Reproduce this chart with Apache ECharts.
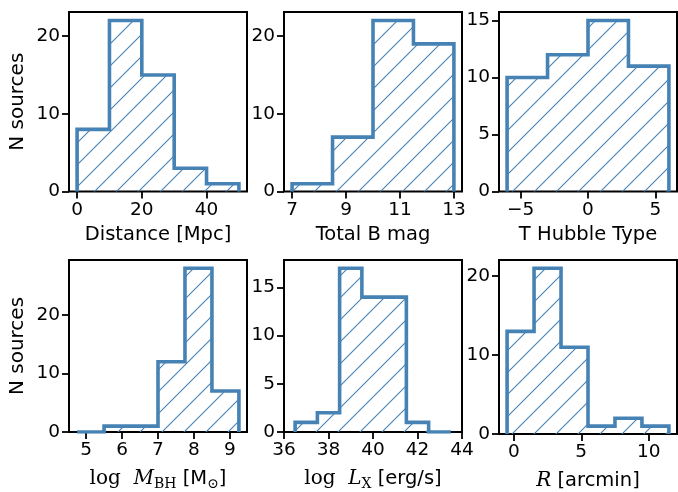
<!DOCTYPE html>
<html>
<head>
<meta charset="utf-8">
<script src="https://cdn.jsdelivr.net/npm/echarts@6/dist/echarts.min.js"></script>
<style>html,body{margin:0;padding:0;background:#fff}#c{width:678px;height:492px}</style>
</head>
<body>
<div id="c"></div>
<script>
// ---- data (bin edges and counts) ----
const distEdges = [0, 10, 20, 30, 40, 50];
const distCounts = [8, 22, 15, 3, 1];
const bmagEdges = [7, 8.5, 10, 11.5, 13];
const bmagCounts = [1, 7, 22, 19];
const typeEdges = [-6, -3, 0, 3, 6];
const typeCounts = [10, 12, 15, 11];
const mbhEdges = [4.75, 5.5, 6.25, 7, 7.75, 8.5, 9.25];
const mbhCounts = [0, 1, 1, 12, 28, 7];
const lxEdges = [36.5, 37.5, 38.5, 39.5, 40.5, 41.5, 42.5, 43.5];
const lxCounts = [1, 2, 17, 14, 14, 1, 0];
const rEdges = [-0.5, 1.5, 3.5, 5.5, 7.5, 9.5, 11.5];
const rCounts = [13, 21, 11, 1, 2, 1];

// tick values
const distXTicks = [0, 20, 40];
const bmagXTicks = [7, 9, 11, 13];
const typeXTicks = [-5, 0, 5];
const mbhXTicks = [5, 6, 7, 8, 9];
const lxXTicks = [36, 38, 40, 42, 44];
const rXTicks = [0, 5, 10];
const yTicks10 = [0, 10, 20];
const yTicks5 = [0, 5, 10, 15];

const BLUE = '#4682b4';
const FONT = 'DejaVu Sans';

function hatchCanvas() {
  const s = 22;
  const c = document.createElement('canvas');
  c.width = s; c.height = s;
  const g = c.getContext('2d');
  g.clearRect(0, 0, s, s);
  g.strokeStyle = 'rgb(70,130,180)';
  g.lineWidth = 1.1;
  g.beginPath();
  g.moveTo(-2, s + 2); g.lineTo(s + 2, -2);
  g.moveTo(-2, 2); g.lineTo(2, -2);
  g.moveTo(s - 2, s + 2); g.lineTo(s + 2, s - 2);
  g.stroke();
  return c;
}
const hatch = hatchCanvas();

function stepPoints(edges, counts) {
  const pts = [[edges[0], 0]];
  for (let i = 0; i < counts.length; i++) {
    pts.push([edges[i], counts[i]]);
    pts.push([edges[i + 1], counts[i]]);
  }
  pts.push([edges[edges.length - 1], 0]);
  return pts;
}

const panels = [
  {edges: distEdges, counts: distCounts, xmin: -2.5, xmax: 52.5, ymax: 23.1, xt: distXTicks, yt: yTicks10,
   xname: 'Distance [Mpc]', yname: 'N sources', gap: 33},
  {edges: bmagEdges, counts: bmagCounts, xmin: 6.7, xmax: 13.3, ymax: 23.1, xt: bmagXTicks, yt: yTicks10,
   xname: 'Total B mag', gap: 33},
  {edges: typeEdges, counts: typeCounts, xmin: -6.6, xmax: 6.6, ymax: 15.75, xt: typeXTicks, yt: yTicks5,
   xname: 'T Hubble Type', gap: 33},
  {edges: mbhEdges, counts: mbhCounts, xmin: 4.525, xmax: 9.475, ymax: 29.4, xt: mbhXTicks, yt: yTicks10,
   xname: '{s|log  }{i|M}{sub|BH}{n| [M}{sub|⊙}{n|]}', yname: 'N sources', gap: 35},
  {edges: lxEdges, counts: lxCounts, xmin: 36, xmax: 44, ymax: 17.85, xt: lxXTicks, yt: yTicks5,
   xname: '{s|log  }{i|L}{sub|X}{n| [erg/s]}', gap: 35},
  {edges: rEdges, counts: rCounts, xmin: -1.1, xmax: 12.1, ymax: 22.05, xt: rXTicks, yt: yTicks10,
   xname: '{i|R}{n| [arcmin]}', gap: 35}
];

const lefts = [69, 284, 499];
const tops = [12, 260];
const W = 178, H = 179.5;

const grid = [], xAxis = [], yAxis = [], series = [];
const fmt = v => String(v).replace('-', '\u2212');
const rich = {
  s: {fontFamily: 'DejaVu Serif', fontSize: 20, color: '#000', lineHeight: 24},
  i: {fontFamily: 'DejaVu Serif', fontStyle: 'italic', fontSize: 20, color: '#000', lineHeight: 24},
  n: {fontFamily: FONT, fontSize: 19.5, color: '#000', lineHeight: 24},
  sub: {fontFamily: 'DejaVu Serif', fontSize: 14, color: '#000', lineHeight: 12, verticalAlign: 'bottom'}
};

panels.forEach((p, k) => {
  const col = k % 3, row = Math.floor(k / 3);
  grid.push({left: lefts[col], top: tops[row], width: W, height: H, show: true,
    borderColor: '#000', borderWidth: 2, backgroundColor: 'transparent', containLabel: false});
  xAxis.push({
    type: 'value', gridIndex: k, min: p.xmin, max: p.xmax,
    axisLine: {show: false, onZero: false},
    axisTick: {show: true, inside: false, length: 7, lineStyle: {color: '#000', width: 1.8}, customValues: p.xt},
    axisLabel: {show: true, margin: 9, fontFamily: FONT, fontSize: 18.5, color: '#000', customValues: p.xt, formatter: fmt},
    splitLine: {show: false},
    name: p.xname, nameLocation: 'middle', nameGap: p.gap,
    nameTextStyle: {fontFamily: FONT, fontSize: 19.5, color: '#000', rich: rich}
  });
  yAxis.push({
    type: 'value', gridIndex: k, min: 0, max: p.ymax,
    axisLine: {show: false, onZero: false},
    axisTick: {show: true, inside: false, length: 7, lineStyle: {color: '#000', width: 1.8}, customValues: p.yt},
    axisLabel: {show: true, margin: 9, fontFamily: FONT, fontSize: 18.5, color: '#000', customValues: p.yt, formatter: fmt},
    splitLine: {show: false},
    name: p.yname || '', nameLocation: 'middle', nameGap: 41,
    nameTextStyle: {fontFamily: FONT, fontSize: 20, color: '#000'}
  });
  series.push({
    type: 'line', xAxisIndex: k, yAxisIndex: k,
    data: stepPoints(p.edges, p.counts),
    showSymbol: false, symbol: 'none', animation: false,
    lineStyle: {color: BLUE, width: 3.6, join: 'miter'},
    areaStyle: {color: {image: hatch, repeat: 'repeat'}, opacity: 1, origin: 'start'},
    z: 3
  });
});

const chart = echarts.init(document.getElementById('c'), null, {renderer: 'canvas'});
chart.setOption({animation: false, grid, xAxis, yAxis, series});
</script>
</body>
</html>
